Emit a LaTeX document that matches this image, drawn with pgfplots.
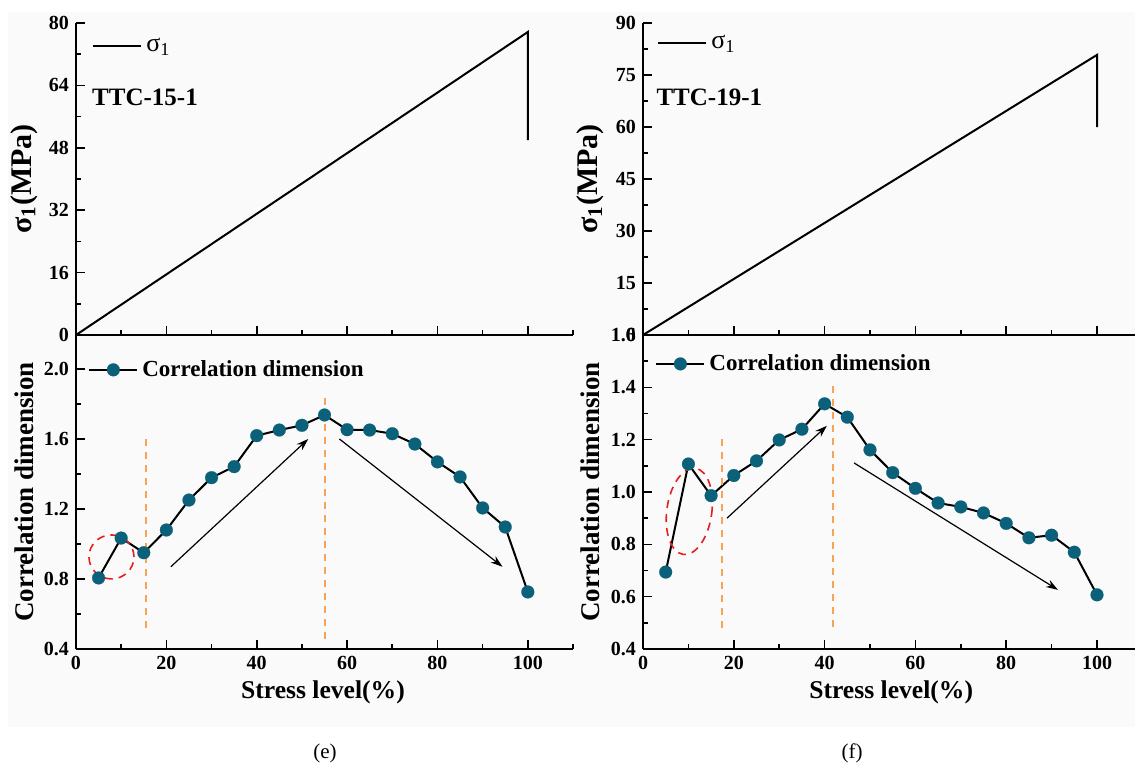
\documentclass[border=0pt]{standalone}
\usepackage{fontspec}
\setmainfont{Liberation Serif}
\usepackage{pgfplots}
\pgfplotsset{compat=1.18}
\usetikzlibrary{arrows.meta}

\definecolor{dotteal}{RGB}{11,96,122}
\definecolor{guide}{RGB}{247,163,88}
\definecolor{ring}{RGB}{230,30,30}
\definecolor{paper}{RGB}{250,250,250}

\tikzset{tag/.style={anchor=west, inner sep=0pt, font=\fontsize{12.5}{14}\selectfont\bfseries}}

\pgfplotsset{
  panel/.style={
    scale only axis, anchor=south west,
    xmin=0, xmax=110,
    axis x line*=bottom, axis y line*=left,
    axis line style={line width=1pt, -},
    tick align=inside,
    major tick length=4.5pt, minor tick length=2.5pt,
    every tick/.style={black, line width=0.8pt},
    every minor tick/.style={black, line width=0.8pt},
    xtick={0,20,40,60,80,100}, minor xtick={10,30,50,70,90,110},
    xticklabels={0,20,40,60,80,100},
    tick label style={font=\fontsize{10}{11}\selectfont\bfseries},
    every axis y label/.style={at={(axis description cs:-0.105,0.5)}, rotate=90, anchor=center,
      font=\fontsize{13.5}{15}\selectfont\bfseries},
    every axis x label/.style={at={(axis description cs:0.497,-0.137)}, anchor=center,
      font=\fontsize{12.8}{14}\selectfont\bfseries},
    clip=false,
    legend cell align=left,
  },
  toppanel/.style={panel, height=156pt, ymin=0, xticklabels={},
    ylabel style={font=\fontsize{15}{17}\selectfont\bfseries},
    legend style={draw=none, fill=none, inner sep=0pt, anchor=west,
      font=\fontsize{13}{15}\selectfont},
    legend image code/.code={\draw[##1] (0pt,0pt) -- (24pt,0pt);},
  },
  botpanel/.style={panel, height=157pt,
    xlabel={Stress level(\%)}, ylabel={Correlation dimension},
    legend style={draw=none, fill=none, inner sep=0pt, anchor=west,
      font=\fontsize{11.5}{13}\selectfont\bfseries},
    legend image code/.code={\draw[##1, mark repeat=2, mark phase=2]
      plot coordinates {(0pt,0pt) (12pt,0pt) (24pt,0pt)};},
  },
  cd/.style={black, line width=1pt, mark=*, mark size=3.2pt,
    mark options={fill=dotteal, draw=dotteal, line width=0.1pt}},
  stage/.style={guide, line width=1pt, dash pattern=on 3.5pt off 3pt, forget plot},
  trend/.style={black, line width=0.6pt, -{Stealth[length=6pt,width=4pt]}, forget plot},
}

\begin{document}
\begin{tikzpicture}
\useasboundingbox (0,0) rectangle (567.5pt,383.5pt);
\fill[paper] (4pt,20pt) rectangle (567.5pt,377.5pt);

% (e) top
\begin{axis}[toppanel, at={(38pt,216pt)}, width=248.5pt, ymax=80,
  ytick={0,16,32,48,64,80}, yticklabels={0,16,32,48,64,80},
  minor ytick={8,24,40,56,72},
  ylabel={σ\textsubscript{1}(MPa)},
  legend style={at={(axis description cs:0.032,0.925)}}]
\addplot[black, line width=1pt] coordinates {(0,0) (100,77.7) (100,50)};
\legend{σ\textsubscript{1}}
\node[tag] at (axis cs:3.5,61) {TTC-15-1};
\end{axis}

% (e) bottom
\begin{axis}[botpanel, at={(38pt,59pt)}, width=248.5pt, ymin=0.4, ymax=2.194,
  ytick={0.4,0.8,1.2,1.6,2.0}, yticklabels={0.4,0.8,1.2,1.6,2.0},
  minor ytick={0.6,1.0,1.4,1.8},
  legend style={at={(axis description cs:0.024,0.889)}}]
\addplot[cd] coordinates {(5,0.806) (10,1.034) (15,0.95) (20,1.08) (25,1.251)
  (30,1.379) (35,1.442) (40,1.619) (45,1.651) (50,1.678) (55,1.737) (60,1.653)
  (65,1.651) (70,1.63) (75,1.571) (80,1.469) (85,1.383) (90,1.206) (95,1.097) (100,0.726)};
\legend{Correlation dimension}
\addplot[stage] coordinates {(15.5,0.52) (15.5,1.62)};
\addplot[stage] coordinates {(55.1,0.46) (55.1,1.84)};
\addplot[trend] coordinates {(21.0,0.87) (51.4,1.60)};
\addplot[trend] coordinates {(58.3,1.60) (94.4,0.87)};
\draw[ring, line width=0.8pt, dash pattern=on 4pt off 3pt] (axis cs:7.85,0.926) ellipse [x radius=11.25pt, y radius=11pt];
\end{axis}

% (f) top
\begin{axis}[toppanel, at={(321.5pt,216pt)}, width=249.7pt, ymax=90,
  ytick={0,15,30,45,60,75,90}, yticklabels={0,15,30,45,60,75,90},
  minor ytick={7.5,22.5,37.5,52.5,67.5,82.5},
  ylabel={σ\textsubscript{1}(MPa)},
  legend style={at={(axis description cs:0.028,0.935)}}]
\addplot[black, line width=1pt] coordinates {(0,0) (100,80.8) (100,60)};
\legend{σ\textsubscript{1}}
\node[tag] at (axis cs:2.9,68.65) {TTC-19-1};
\end{axis}

% (f) bottom
\begin{axis}[botpanel, at={(321.5pt,59pt)}, width=249.7pt, ymin=0.4, ymax=1.6,
  ytick={0.4,0.6,0.8,1.0,1.2,1.4,1.6}, yticklabels={0.4,0.6,0.8,1.0,1.2,1.4,1.6},
  minor ytick={0.5,0.7,0.9,1.1,1.3,1.5},
  legend style={at={(axis description cs:0.024,0.908)}}]
\addplot[cd] coordinates {(5,0.694) (10,1.107) (15,0.986) (20,1.063) (25,1.119)
  (30,1.199) (35,1.24) (40,1.337) (45,1.286) (50,1.161) (55,1.074) (60,1.014)
  (65,0.958) (70,0.943) (75,0.92) (80,0.88) (85,0.825) (90,0.835) (95,0.77) (100,0.607)};
\legend{Correlation dimension}
\addplot[stage] coordinates {(17.3,0.48) (17.3,1.215)};
\addplot[stage] coordinates {(41.8,0.485) (41.8,1.41)};
\addplot[trend] coordinates {(18.5,0.90) (40.5,1.253)};
\addplot[trend] coordinates {(46.5,1.111) (91.4,0.626)};
\draw[ring, line width=0.8pt, dash pattern=on 4pt off 3pt, rotate around={-8:(axis cs:10.2,0.926)}] (axis cs:10.2,0.926) ellipse [x radius=11.25pt, y radius=21.75pt];
\end{axis}

\node[font=\fontsize{10.5}{12}\selectfont] at (162.5pt,7pt) {(e)};
\node[font=\fontsize{10.5}{12}\selectfont] at (426pt,7pt) {(f)};
\end{tikzpicture}
\end{document}
